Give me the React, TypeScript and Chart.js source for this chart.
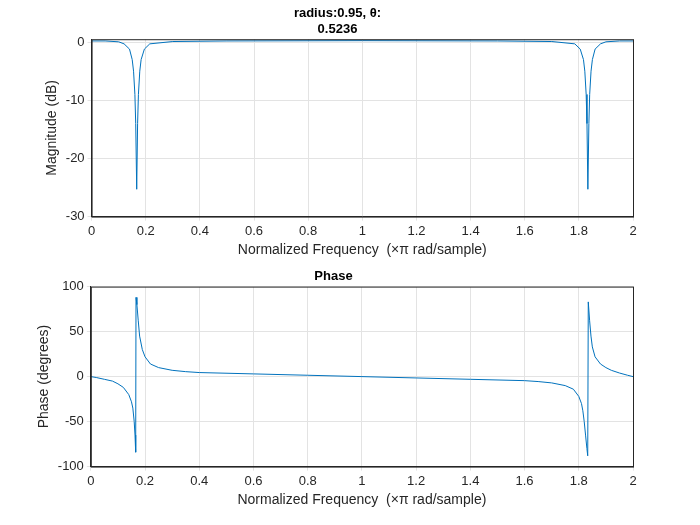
import React, { useEffect, useRef } from "react";
import { Chart, registerables } from "chart.js";
Chart.register(...registerables);

const magFreq = [0, 0.05, 0.1, 0.12, 0.14, 0.15, 0.155, 0.16, 0.163, 0.1667, 0.17, 0.173, 0.178, 0.183, 0.195, 0.215, 0.3, 0.5, 1.0, 1.5, 1.7, 1.785, 1.805, 1.817, 1.822, 1.827, 1.83, 1.8333, 1.837, 1.84, 1.845, 1.85, 1.86, 1.88, 1.9, 1.95, 2.0];
const magDb = [0.2, 0.2, 0.05, -0.3, -1.2, -3, -5, -9, -14, -25.3, -14, -9, -5, -3, -1.2, -0.3, 0.1, 0.2, 0.25, 0.2, 0.1, -0.3, -1.2, -3, -5, -9, -14, -25.3, -14, -9, -5, -3, -1.2, -0.3, 0.05, 0.2, 0.2];
const phFreq = [0, 0.02, 0.05, 0.08, 0.1, 0.12, 0.14, 0.15, 0.155, 0.16, 0.163, 0.1655, 0.1667, 0.17, 0.175, 0.18, 0.19, 0.2, 0.22, 0.25, 0.3, 0.35, 0.4, 0.6, 0.8, 1.0, 1.2, 1.4, 1.6, 1.65, 1.7, 1.75, 1.78, 1.8, 1.81, 1.815, 1.82, 1.825, 1.83, 1.833, 1.835, 1.84, 1.845, 1.85, 1.86, 1.88, 1.9, 1.92, 1.95, 1.98, 2.0];
const phDeg = [0, -1, -3, -5, -8, -12, -20, -28, -35, -50, -65, -84, 88, 80, 62, 45, 30, 22, 14, 10, 7, 5.5, 4.5, 3, 1.5, 0, -1.5, -3, -4.5, -5.5, -7, -10, -14, -22, -30, -38, -50, -65, -80, -88, 83, 62, 45, 33, 22, 14, 10, 7, 4, 1.5, 0];

const font = { family: "Liberation Sans, Arial, sans-serif" };

const boxPlugin = {
  id: "box",
  afterDraw(chart: any) {
    const a = chart.chartArea;
    const ctx = chart.ctx;
    ctx.save();
    ctx.strokeStyle = "#262626";
    ctx.lineWidth = 1;
    ctx.strokeRect(a.left + 0.5, a.top + 0.5, a.right - a.left, a.bottom - a.top);
    ctx.restore();
  },
};

function makeConfig(xs: number[], ys: number[], title: string | string[], yLabel: string, ymin: number, ymax: number, step: number, pad: any) {
  return {
    type: "line" as const,
    data: {
      datasets: [{
        data: xs.map((x, i) => ({ x, y: ys[i] })),
        borderColor: "#0072BD", borderWidth: 1, pointRadius: 0, tension: 0,
      }],
    },
    plugins: [boxPlugin],
    options: {
      animation: false, responsive: false,
      layout: { padding: pad },
      plugins: {
        legend: { display: false }, tooltip: { enabled: false },
        title: { display: true, text: title, color: "#000", font: { ...font, size: 13, weight: "bold" }, padding: { top: 0, bottom: 2 } },
      },
      scales: {
        x: {
          type: "linear", min: 0, max: 2,
          ticks: { stepSize: 0.2, color: "#262626", font: { ...font, size: 13 }, maxRotation: 0, callback: (v: number) => String(Number(v.toFixed(1))) },
          grid: { color: "#e3e3e3", tickLength: 4 },
          border: { color: "#262626" },
          title: { display: true, text: "Normalized Frequency  (×π rad/sample)", color: "#262626", font: { ...font, size: 14 }, padding: 0 },
        },
        y: {
          min: ymin, max: ymax,
          afterBuildTicks: (ax: any) => { const t = []; for (let v = Math.ceil(ymin / step) * step; v <= ymax; v += step) t.push({ value: v }); ax.ticks = t; },
          ticks: { color: "#262626", font: { ...font, size: 13 } },
          grid: { color: "#e3e3e3", tickLength: 4 },
          border: { color: "#262626" },
          title: { display: true, text: yLabel, color: "#262626", font: { ...font, size: 14 }, padding: 2 },
        },
      },
    },
  };
}

export default function App() {
  const r1 = useRef<HTMLCanvasElement>(null);
  const r2 = useRef<HTMLCanvasElement>(null);
  useEffect(() => {
    const c1 = new Chart(r1.current!, makeConfig(magFreq, magDb, ["radius:0.95, θ:", "0.5236"], "Magnitude (dB)", -30, 0.5, 10, { left: 42, right: 67, top: 6, bottom: 6 }) as any);
    const c2 = new Chart(r2.current!, makeConfig(phFreq, phDeg, "Phase", "Phase (degrees)", -100, 100, 50, { left: 34, right: 67, top: 4, bottom: 16 }) as any);
    return () => { c1.destroy(); c2.destroy(); };
  }, []);
  return (
    <div style={{ position: "absolute", left: 0, top: 0, width: 700, height: 525, background: "#fff" }}>
      <canvas ref={r1} width={700} height={265} style={{ position: "absolute", left: 0, top: 0 }} />
      <canvas ref={r2} width={700} height={260} style={{ position: "absolute", left: 0, top: 265 }} />
    </div>
  );
}
